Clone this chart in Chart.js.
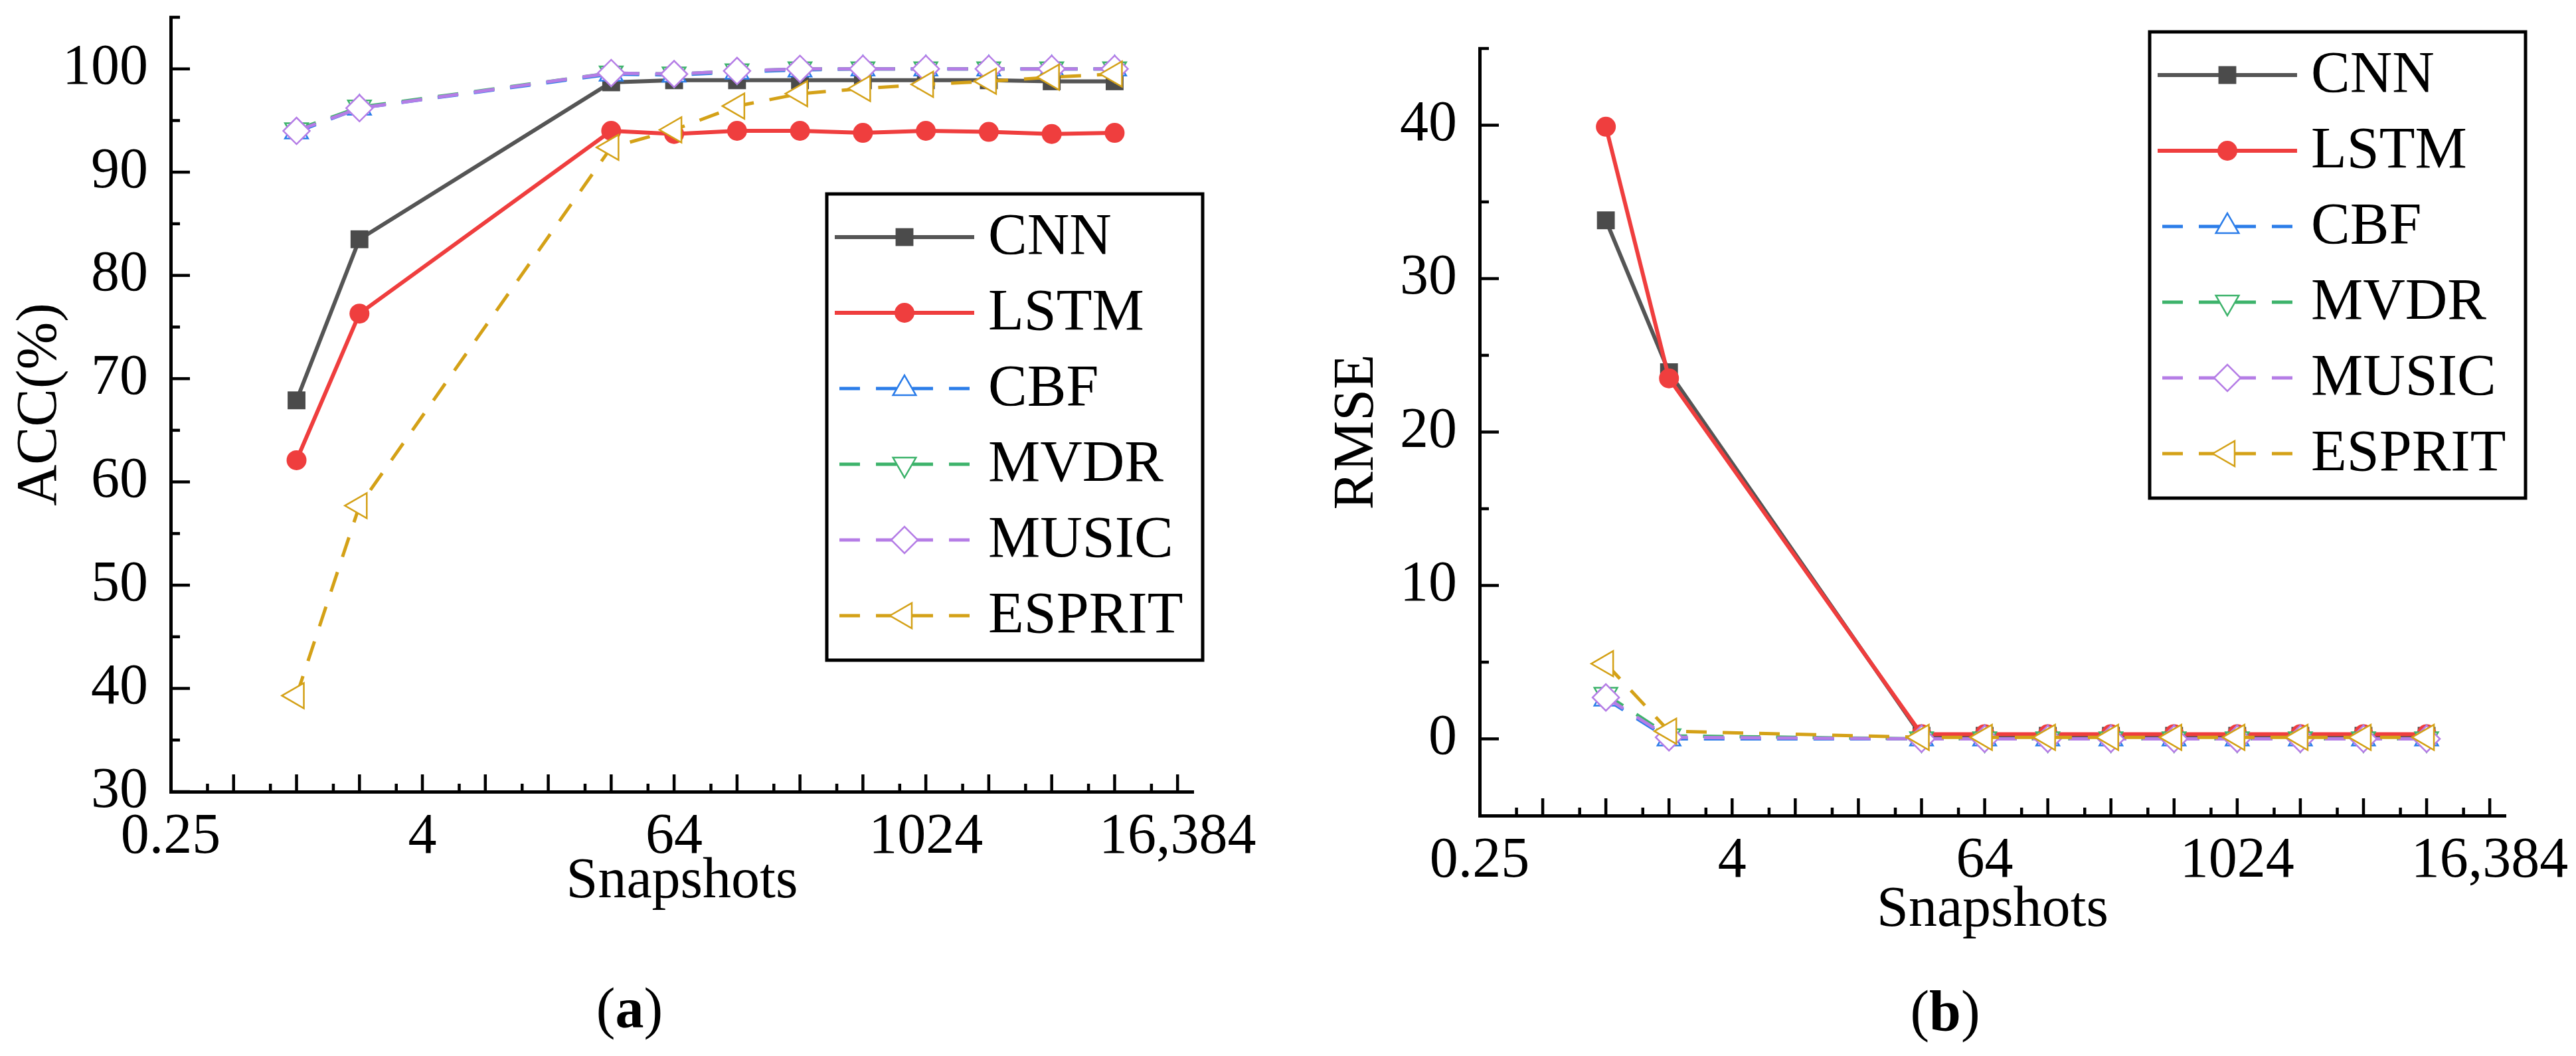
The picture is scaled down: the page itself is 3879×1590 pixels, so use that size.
<!DOCTYPE html>
<html>
<head>
<meta charset="utf-8">
<script src="https://cdn.jsdelivr.net/npm/chart.js@4.4.1/dist/chart.umd.min.js"></script>
<style>
  html, body { margin: 0; padding: 0; background: #fff; }
  body { width: 3879px; height: 1590px; position: relative; overflow: hidden; font-family: 'Liberation Serif', serif; }
  canvas { position: absolute; top: 0; }
  #accChart { left: 0; }
  #rmseChart { left: 1940px; }
  .caption { position: absolute; width: 400px; text-align: center; font-size: 86px; line-height: 86px; color: #000; }
</style>
</head>
<body>
<canvas id="accChart" width="1940" height="1440"></canvas>
<canvas id="rmseChart" width="1939" height="1440"></canvas>
<div class="caption" style="left:748px; top:1475px;">(<b>a</b>)</div>
<div class="caption" style="left:2729px; top:1479px;">(<b>b</b>)</div>
<script>
// ---- data ----
const snapshots = [1, 2, 32, 64, 128, 256, 512, 1024, 2048, 4096, 8192];
const methods = ['CNN', 'LSTM', 'CBF', 'MVDR', 'MUSIC', 'ESPRIT'];

// (a) accuracy, %
const accCNN    = [67.9, 83.5, 98.7, 98.9, 98.9, 98.9, 98.9, 98.9, 98.9, 98.8, 98.8];
const accLSTM   = [62.1, 76.3, 94.0, 93.7, 94.0, 94.0, 93.8, 94.0, 93.9, 93.7, 93.8];
const accCBF    = [93.9, 96.2, 99.5, 99.4, 99.7, 99.9, 100, 100, 100, 100, 100];
const accMVDR   = [94.1, 96.3, 99.6, 99.5, 99.8, 100, 100, 100, 100, 100, 100];
const accMUSIC  = [94.0, 96.2, 99.6, 99.5, 99.8, 100, 100, 100, 100, 100, 100];
const accESPRIT = [39.3, 57.7, 92.4, 94.1, 96.4, 97.6, 98.1, 98.5, 98.8, 99.2, 99.5];

// (b) RMSE
const rmseCNN    = [33.8, 23.9, 0.2, 0.2, 0.2, 0.2, 0.2, 0.2, 0.2, 0.2, 0.2];
const rmseLSTM   = [39.9, 23.5, 0.3, 0.3, 0.3, 0.3, 0.3, 0.3, 0.3, 0.3, 0.3];
const rmseCBF    = [2.6, 0.0, 0.0, 0.0, 0.0, 0.0, 0.0, 0.0, 0.0, 0.0, 0.0];
const rmseMVDR   = [2.9, 0.2, 0.0, 0.0, 0.0, 0.0, 0.0, 0.0, 0.0, 0.0, 0.0];
const rmseMUSIC  = [2.7, 0.1, 0.0, 0.0, 0.0, 0.0, 0.0, 0.0, 0.0, 0.0, 0.0];
const rmseESPRIT = [4.9, 0.5, 0.1, 0.1, 0.1, 0.1, 0.1, 0.1, 0.1, 0.1, 0.1];

// axes
const xMin = 0.25, xMax = 19500;
const xTickValues = [0.25, 4, 64, 1024, 16384];
const xTickLabels = ['0.25', '4', '64', '1024', '16,384'];
const accTicks = [30, 40, 50, 60, 70, 80, 90, 100];
const accMinor = [35, 45, 55, 65, 75, 85, 95, 105];
const rmseTicks = [0, 10, 20, 30, 40];
const rmseMinor = [5, 15, 25, 35, 45];

// tick marks on the log2 axis: every power of two, minor at 1.5 x 2^n
const xMajorTicks = [];
const xMinorTicks = [];
for (let p = -2; p <= 13; p++) {
  xMajorTicks.push(2 ** (p + 1));
  xMinorTicks.push(1.5 * 2 ** p);
}

// ---- styles ----
const FONT = 'Liberation Serif';
const DASH = [31, 24];
const seriesStyle = {
  CNN:    { color: '#555555', fill: '#4b4b4b', point: 'rect',     radius: 19, rotation: 0,   dash: [] },
  LSTM:   { color: '#ef3e3e', fill: '#ef3e3e', point: 'circle',   radius: 15, rotation: 0,   dash: [] },
  CBF:    { color: '#2b7de9', fill: '#ffffff', point: 'triangle', radius: 20, rotation: 0,   dash: DASH },
  MVDR:   { color: '#3db36b', fill: '#ffffff', point: 'triangle', radius: 20, rotation: 180, dash: DASH },
  MUSIC:  { color: '#b57de6', fill: '#ffffff', point: 'rectRot',  radius: 20, rotation: 0,   dash: DASH },
  ESPRIT: { color: '#d4a117', fill: '#ffffff', point: 'triangle', radius: 22, rotation: -90, dash: DASH }
};
const drawOrder = [5, 4, 3, 2, 1, 0]; // ESPRIT on top

function makeDatasets(seriesList) {
  return methods.map((name, i) => {
    const s = seriesStyle[name];
    const dashed = s.dash.length > 0;
    return {
      label: name,
      data: snapshots.map((x, j) => ({ x: x, y: seriesList[i][j] })),
      borderColor: s.color,
      borderWidth: dashed ? 5 : 6,
      borderDash: s.dash,
      pointStyle: s.point,
      pointRadius: s.radius,
      pointRotation: s.rotation,
      pointBackgroundColor: s.fill,
      pointBorderColor: s.color,
      pointBorderWidth: dashed ? 2.5 : 0,
      tension: 0,
      order: drawOrder[i]
    };
  });
}

// inward ticks, placed with the chart's own scales
const inwardTicks = {
  id: 'inwardTicks',
  beforeDatasetsDraw(chart, args, opts) {
    const { ctx, chartArea: a, scales: { x, y } } = chart;
    ctx.save();
    ctx.strokeStyle = '#000';
    ctx.lineWidth = 4.5;
    const mark = (px, py, dx, dy) => {
      ctx.beginPath();
      ctx.moveTo(px, py);
      ctx.lineTo(px + dx, py + dy);
      ctx.stroke();
    };
    xMajorTicks.forEach(v => mark(x.getPixelForValue(v), a.bottom + 2, 0, -28));
    xMinorTicks.forEach(v => mark(x.getPixelForValue(v), a.bottom + 2, 0, -14));
    opts.yMajor.forEach(v => mark(a.left - 2, y.getPixelForValue(v), 31, 0));
    opts.yMinor.forEach(v => mark(a.left - 2, y.getPixelForValue(v), 16, 0));
    ctx.restore();
  }
};

// boxed legend with line sample + marker
const boxLegend = {
  id: 'boxLegend',
  afterDatasetsDraw(chart, args, opts) {
    const ctx = chart.ctx;
    const left = opts.left, top = opts.top;
    const width = 566, height = 702, firstRow = 65, rowGap = 114;
    ctx.save();
    ctx.fillStyle = '#fff';
    ctx.fillRect(left, top, width, height);
    ctx.lineWidth = 5;
    ctx.strokeStyle = '#000';
    ctx.strokeRect(left, top, width, height);
    chart.data.datasets.forEach((ds, i) => {
      const y = top + firstRow + i * rowGap;
      const x0 = left + 12, len = 210, cx = x0 + len / 2;
      ctx.save();
      ctx.strokeStyle = ds.borderColor;
      ctx.lineWidth = ds.borderWidth;
      if (ds.borderDash.length) {
        const d = ds.borderDash[0], g = ds.borderDash[1], per = d + g;
        ctx.setLineDash(ds.borderDash);
        ctx.lineDashOffset = (((d + g / 2 - len / 2) % per) + per) % per;
      }
      ctx.beginPath();
      ctx.moveTo(x0, y);
      ctx.lineTo(x0 + len, y);
      ctx.stroke();
      ctx.setLineDash([]);
      ctx.fillStyle = ds.pointBackgroundColor;
      ctx.strokeStyle = ds.pointBorderColor;
      ctx.lineWidth = ds.pointBorderWidth;
      if (Chart.helpers && Chart.helpers.drawPoint) {
        Chart.helpers.drawPoint(ctx, {
          pointStyle: ds.pointStyle,
          radius: ds.pointRadius,
          rotation: ds.pointRotation,
          borderWidth: ds.pointBorderWidth
        }, cx, y);
      }
      ctx.restore();
      ctx.fillStyle = '#000';
      ctx.font = '88px "' + FONT + '", serif';
      ctx.textAlign = 'left';
      ctx.textBaseline = 'middle';
      ctx.fillText(ds.label, left + 243, y + 2);
    });
    ctx.restore();
  }
};

function buildChart(canvasId, seriesList, yMin, yMax, yTicks, yMinor, yTitle, geom) {
  const tickFont = { family: '"' + FONT + '", serif', size: 86 };
  return new Chart(document.getElementById(canvasId), {
    type: 'line',
    data: { datasets: makeDatasets(seriesList) },
    options: {
      responsive: false,
      animation: false,
      devicePixelRatio: 1,
      layout: { padding: { left: 0, top: geom.top, right: geom.right, bottom: 0 } },
      plugins: {
        legend: { display: false },
        tooltip: { enabled: false },
        inwardTicks: { yMajor: yTicks, yMinor: yMinor },
        boxLegend: { left: geom.legendLeft, top: geom.legendTop }
      },
      scales: {
        x: {
          type: 'logarithmic',
          bounds: 'data',
          min: xMin,
          max: xMax,
          offset: false,
          grid: { display: false, drawTicks: false },
          border: { display: true, color: '#000', width: 5 },
          afterBuildTicks: s => { s.ticks = xTickValues.map(v => ({ value: v })); },
          afterFit: s => { s.height = geom.xHeight; s.paddingLeft = 0; s.paddingRight = 0; },
          ticks: {
            autoSkip: false, maxRotation: 0, minRotation: 0,
            padding: 18, color: '#000', font: tickFont,
            callback: (v, i) => xTickLabels[i]
          },
          title: {
            display: true, text: 'Snapshots', color: '#000', font: tickFont,
            padding: { top: 0, bottom: geom.xTitlePad }
          }
        },
        y: {
          type: 'linear',
          bounds: 'data',
          min: yMin,
          max: yMax,
          grid: { display: false, drawTicks: false },
          border: { display: true, color: '#000', width: 5 },
          afterBuildTicks: s => { s.ticks = yTicks.map(v => ({ value: v })); },
          afterFit: s => { s.width = geom.left; s.paddingTop = 0; s.paddingBottom = 0; },
          ticks: { padding: 34, color: '#000', font: tickFont, callback: v => String(v) },
          title: {
            display: true, text: yTitle, color: '#000', font: tickFont,
            padding: { top: geom.yTitlePad, bottom: geom.yTitlePad }
          }
        }
      }
    },
    plugins: [inwardTicks, boxLegend]
  });
}

function drawAll() {
  buildChart('accChart',
    [accCNN, accLSTM, accCBF, accMVDR, accMUSIC, accESPRIT],
    30, 105, accTicks, accMinor, 'ACC(%)',
    { left: 257, top: 26, right: 143, xHeight: 248, xTitlePad: 60, yTitlePad: 10, legendLeft: 1245, legendTop: 292 });

  buildChart('rmseChart',
    [rmseCNN, rmseLSTM, rmseCBF, rmseMVDR, rmseMUSIC, rmseESPRIT],
    -5, 45, rmseTicks, rmseMinor, 'RMSE',
    { left: 288, top: 73, right: 106, xHeight: 212, xTitlePad: 17, yTitlePad: 53, legendLeft: 1297, legendTop: 48 });
}

// make sure the serif face is ready before the canvas text is drawn
if (document.fonts && document.fonts.load) {
  Promise.all([
    document.fonts.load('86px "' + FONT + '"'),
    document.fonts.load('88px "' + FONT + '"')
  ]).then(drawAll, drawAll);
} else {
  drawAll();
}
</script>
</body>
</html>
